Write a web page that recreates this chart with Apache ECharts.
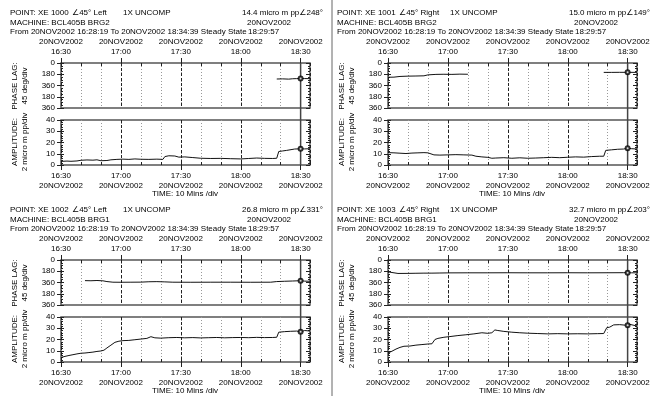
<!DOCTYPE html>
<html>
<head>
<meta charset="utf-8">
<script src="https://cdn.jsdelivr.net/npm/echarts@6/dist/echarts.min.js"></script>
<style>
html, body { margin: 0; padding: 0; background: #fff; }
#chart { width: 652px; height: 396px; }
</style>
</head>
<body>
<div id="chart"></div>
<script>
// times are minutes after 16:30 on 20NOV2002
const points = ['XE 1000', 'XE 1001', 'XE 1002', 'XE 1003'];
const sides = ['Left', 'Right', 'Left', 'Right'];
const machines = ['BCL405B BRG2', 'BCL405B BRG2', 'BCL405B BRG1', 'BCL405B BRG1'];
const cursorAmp = [14.4, 15.0, 26.8, 32.7];
const cursorPhase = [248, 149, 331, 203];
const timeTicks = ['16:30', '17:00', '17:30', '18:00', '18:30'];
const cursorTime = 119.95; // 18:29:57
const endTime = 124.65;    // 18:34:39

const amp1000 = [[0,3.2],[3,3.5],[5,3.3],[8,3.6],[10,4.2],[13,4.5],[16,4.3],[18,4.6],[20,3.8],[23,4.0],[25,4.6],[28,5.0],[31,5.2],[34,5.0],[37,5.4],[40,5.1],[44,5.0],[48,5.2],[51,5.0],[52,7.5],[54,8.2],[57,8.0],[59,7.0],[62,7.2],[66,6.6],[70,6.0],[75,5.8],[80,5.9],[85,5.6],[90,5.4],[94,5.8],[98,6.2],[102,5.9],[106,5.8],[108,6.0],[109,12.0],[111,12.5],[113,13.0],[114,14.0],[117,14.2],[120,14.4],[122,14.3],[124.6,14.5]];
const phase1000 = [[108,256],[111,254],[114,258],[116,252],[118,250],[120,248],[122,249],[124.6,250]];

const amp1001 = [[0,11.0],[3,10.8],[6,10.5],[9,10.2],[12,10.6],[15,10.8],[18,11.0],[20,10.8],[21,9.5],[23,9.0],[26,8.8],[30,9.0],[34,9.2],[38,9.0],[42,8.8],[44,7.8],[47,7.2],[50,6.8],[52,6.0],[53,4.5],[54,6.2],[58,6.5],[62,6.0],[66,6.4],[70,6.0],[74,6.2],[78,6.5],[82,6.8],[86,6.5],[90,6.9],[94,7.2],[98,7.0],[102,7.5],[106,7.8],[108,7.8],[109,13.0],[112,13.5],[115,14.0],[118,14.2],[120,15.0],[122,14.5],[124.6,14.2]];
const phase1001 = [[0,228],[3,226],[6,215],[10,210],[14,208],[18,205],[20,190],[24,182],[28,180],[32,182],[36,178],[40,180],[70,null],[108,150],[112,150],[116,149],[120,149],[124.6,150]];

const amp1002 = [[0,4.0],[2,5.0],[4,5.8],[6,6.5],[8,7.2],[10,7.8],[12,8.0],[14,8.4],[16,8.8],[18,9.4],[20,9.8],[21.5,10.5],[23,12.5],[25,15.0],[27,17.5],[29,18.5],[31,19.0],[34,19.2],[37,19.8],[40,20.4],[43,21.0],[45,22.5],[47,21.5],[50,21.2],[54,21.6],[58,21.8],[62,21.5],[66,21.7],[70,21.4],[74,21.6],[78,21.8],[82,21.5],[86,21.7],[90,21.8],[94,21.6],[98,21.9],[102,21.7],[106,21.8],[108,22.0],[109,26.5],[112,27.0],[115,27.3],[118,27.5],[120,26.8],[122,28.0],[124.6,27.5]];
const phase1002 = [[12,330],[15,332],[18,328],[21,333],[23,345],[26,355],[30,356],[35,355],[40,354],[44,348],[48,346],[52,350],[56,355],[65,356],[75,355],[85,355],[95,356],[105,355],[108,345],[112,340],[116,336],[120,331],[122,338],[124.6,340]];

const amp1003 = [[0,8.0],[2,9.6],[4,11.5],[6,13.0],[8,14.0],[11,14.2],[14,15.0],[17,15.5],[20,16.0],[22,16.2],[23.5,20.0],[25,21.0],[28,22.0],[31,22.6],[35,23.5],[39,24.2],[43,25.0],[47,26.0],[50,25.5],[52,26.0],[53.5,28.5],[55,28.0],[58,27.2],[62,26.5],[66,26.0],[70,25.6],[75,25.3],[80,25.0],[85,25.2],[90,25.0],[95,25.1],[100,25.0],[105,25.2],[108,25.3],[109.5,30.5],[111,31.0],[113,33.0],[116,33.2],[119,32.7],[121,33.5],[124.6,32.0]];
const phase1003 = [[0,190],[2,200],[5,215],[10,214],[14,212],[18,210],[22,210],[26,208],[30,206],[40,205],[50,205],[60,204],[70,205],[80,205],[90,204],[100,205],[110,204],[118,203],[120,203],[122,205],[124.6,205]];

const ampData = [amp1000, amp1001, amp1002, amp1003];
const phaseData = [phase1000, phase1001, phase1002, phase1003];
const panelX = [0, 327, 0, 327];
const panelY = [0, 0, 197, 197];

const fam = "'Liberation Sans', 'DejaVu Sans', sans-serif";
const font = '8px ' + fam;
const lbl = { fontFamily: fam, fontSize: 8, color: '#000' };

const chart = echarts.init(document.getElementById('chart'));
const option = { animation: false, grid: [], xAxis: [], yAxis: [], series: [] };

function timeLabel(v, top) {
  if (v % 30 !== 0) return '';
  const t = timeTicks[v / 30];
  return top ? '20NOV2002\n' + t : t + '\n20NOV2002';
}

function addGrid(g, isPhase, ox, oy, data, cur) {
  option.grid.push({
    left: ox + 61, top: oy + (isPhase ? 63 : 120), width: 249, height: 45,
    show: true, borderColor: '#555', borderWidth: 1.5, outerBoundsMode: 'none'
  });
  const pos = isPhase ? 'top' : 'bottom';
  // 10 minute grid
  option.xAxis.push({
    gridIndex: g, type: 'value', min: 0, max: endTime, interval: 10, position: pos,
    axisLine: { show: false, onZero: false }, axisLabel: { show: false },
    axisTick: { inside: true, length: 3, lineStyle: { color: '#222' } },
    splitLine: { show: true, lineStyle: { color: '#999', type: [1, 2] } }
  });
  // 30 minute grid with labels
  option.xAxis.push({
    gridIndex: g, type: 'value', min: 0, max: endTime, interval: 30, position: pos,
    axisLine: { show: false, onZero: false },
    axisTick: { length: 5, lineStyle: { color: '#222' } },
    axisLabel: Object.assign({}, lbl, {
      margin: 6, lineHeight: 10, showMaxLabel: false,
      formatter: v => timeLabel(v, isPhase)
    }),
    splitLine: { show: true, lineStyle: { color: '#222', type: [3, 2] } }
  });
  const yBase = isPhase
    ? { min: 0, max: 720, interval: 180, inverse: true }
    : { min: 0, max: 40, interval: 10 };
  const split = isPhase ? 4 : 5;
  option.yAxis.push(Object.assign({
    gridIndex: g, type: 'value', position: 'left',
    axisLine: { show: false, onZero: false },
    axisTick: { length: 4, lineStyle: { color: '#222' } },
    axisLabel: Object.assign({}, lbl, {
      margin: 6,
      formatter: v => (isPhase && v > 0 && v % 360 === 0) ? '360' : String(isPhase ? v % 360 : v)
    }),
    splitLine: { show: false }
  }, yBase));
  option.yAxis.push(Object.assign({
    gridIndex: g, type: 'value', position: 'left',
    axisLine: { show: false, onZero: false }, axisLabel: { show: false },
    axisTick: { inside: true, length: 3, lineStyle: { color: '#222' } },
    minorTick: { show: true, splitNumber: split, length: 2, lineStyle: { color: '#222' } },
    splitLine: { show: false }
  }, yBase));
  option.yAxis.push(Object.assign({
    gridIndex: g, type: 'value', position: 'right',
    axisLine: { show: false, onZero: false }, axisLabel: { show: false },
    axisTick: { inside: true, length: 4, lineStyle: { color: '#222' } },
    minorTick: { show: true, splitNumber: split, length: 2, lineStyle: { color: '#222' } },
    splitLine: { show: false }
  }, yBase));

  option.series.push({
    type: 'line', xAxisIndex: 2 * g + 1, yAxisIndex: 3 * g, data: data,
    showSymbol: false, connectNulls: false,
    lineStyle: { color: '#111', width: 1 }, z: 3
  });
  option.series.push({
    type: 'scatter', xAxisIndex: 2 * g + 1, yAxisIndex: 3 * g,
    data: [[cursorTime, cur]], symbol: 'emptyCircle', symbolSize: 4,
    itemStyle: { color: '#000', borderWidth: 1 }, z: 5
  });
}

for (let p = 0; p < 4; p++) {
  addGrid(2 * p, true, panelX[p], panelY[p], phaseData[p], cursorPhase[p]);
  addGrid(2 * p + 1, false, panelX[p], panelY[p], ampData[p], cursorAmp[p]);
}
chart.setOption(option);

// header texts, axis titles and cursor lines
const graphics = [];
function text(x, y, s, align, rot) {
  graphics.push({
    type: 'text', x: x, y: y, silent: true, rotation: rot || 0,
    style: { text: s, font: font, fill: '#000', textAlign: align || 'left', textVerticalAlign: 'middle' }
  });
}

for (let p = 0; p < 4; p++) {
  const ox = panelX[p], oy = panelY[p];
  text(ox + 10, oy + 13, 'POINT: ' + points[p]);
  text(ox + 72, oy + 13, '\u222045\u00b0 ' + sides[p]);
  text(ox + 123, oy + 13, '1X UNCOMP');
  text(ox + 323, oy + 13, cursorAmp[p].toFixed(1) + ' micro m pp\u2220' + cursorPhase[p] + '\u00b0', 'right');
  text(ox + 10, oy + 22.5, 'MACHINE: ' + machines[p]);
  text(ox + 247, oy + 22.5, '20NOV2002');
  text(ox + 10, oy + 31.5, 'From 20NOV2002 16:28:19 To 20NOV2002 18:34:39 Steady State');
  text(ox + 248, oy + 31.5, '18:29:57');
  text(ox + 15, oy + 86, 'PHASE LAG:', 'center', Math.PI / 2);
  text(ox + 25, oy + 86, '45 deg/div', 'center', Math.PI / 2);
  text(ox + 15, oy + 142, 'AMPLITUDE:', 'center', Math.PI / 2);
  text(ox + 25, oy + 142, '2 micro m pp/div', 'center', Math.PI / 2);
  text(ox + 185, oy + 194, 'TIME: 10 Mins /div', 'center');

  const gP = 2 * p, gA = 2 * p + 1;
  const top = chart.convertToPixel({ xAxisIndex: 2 * gP + 1, yAxisIndex: 3 * gP }, [cursorTime, 0]);
  const bot = chart.convertToPixel({ xAxisIndex: 2 * gA + 1, yAxisIndex: 3 * gA }, [cursorTime, 0]);
  graphics.push({
    type: 'line', silent: true, z: 4,
    shape: { x1: top[0], y1: top[1], x2: bot[0], y2: bot[1] },
    style: { stroke: '#444', lineWidth: 1.5 }
  });
}
// panel separator
graphics.push({
  type: 'line', silent: true,
  shape: { x1: 332, y1: 0, x2: 332, y2: 396 },
  style: { stroke: '#666', lineWidth: 1 }
});

chart.setOption({ graphic: { elements: graphics } });
</script>
</body>
</html>
